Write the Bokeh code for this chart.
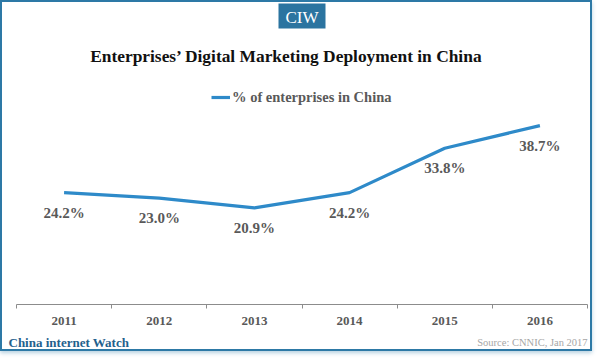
from bokeh.plotting import figure
from bokeh.models import (Range1d, FixedTicker, Label, BoxAnnotation, Legend,
                          LegendItem, ColumnDataSource)
from bokeh.core.properties import value
from bokeh.embed import file_html
from bokeh.resources import INLINE

# ---- data ----
years = ["2011", "2012", "2013", "2014", "2015", "2016"]
share = [24.2, 23.0, 20.9, 24.2, 33.8, 38.7]
series_name = "% of enterprises in China"
title_text = "Enterprises\u2019 Digital Marketing Deployment in China"
brand = "CIW"
footer_left = "China internet Watch"
footer_right = "Source: CNNIC, Jan 2017"

xs = [i + 0.5 for i in range(len(years))]
labels = [f"{v:.1f}%" for v in share]
src = ColumnDataSource(dict(x=xs, y=share, label=labels))

SERIF = "Liberation Serif"
GRAY = "#595959"
LINE = "#2e8ac9"

p = figure(width=588, height=347, output_backend="svg", toolbar_location=None,
           x_range=Range1d(0, len(years)), y_range=Range1d(0, 65.34),
           y_axis_location=None, min_border_left=14, min_border_right=7,
           min_border_top=0, min_border_bottom=46)
p.styles = {"border": "2px solid #2d79a6", "box-sizing": "content-box",
            "box-shadow": "0 2px 4px rgba(45,121,166,0.35)"}
p.outline_line_color = None
p.background_fill_color = "white"
p.border_fill_color = "white"
p.xgrid.visible = False
p.ygrid.visible = False

ax = p.xaxis[0]
ax.ticker = FixedTicker(ticks=xs, minor_ticks=list(range(len(years) + 1)))
ax.major_label_overrides = {x: y for x, y in zip(xs, years)}
ax.major_tick_line_color = None
ax.major_tick_out = 0
ax.major_tick_in = 0
ax.minor_tick_line_color = "#8c8c8c"
ax.minor_tick_out = 4
ax.minor_tick_in = 0
ax.axis_line_color = "#8c8c8c"
ax.axis_line_width = 1
ax.major_label_standoff = 8
ax.major_label_text_font = SERIF
ax.major_label_text_font_style = "bold"
ax.major_label_text_font_size = "13px"
ax.major_label_text_color = GRAY

line = p.line("x", "y", source=src, line_color=LINE, line_width=3.2)
p.text("x", "y", text="label", source=src, y_offset=20, text_align="center",
       text_baseline="middle", text_font=value(SERIF), text_font_style="bold",
       text_font_size="15px", text_color=GRAY)

legend = Legend(items=[LegendItem(label=series_name, renderers=[line])],
                location=(195, 197), padding=0, margin=0, spacing=0,
                glyph_width=19, glyph_height=20, label_height=20,
                label_standoff=2, border_line_color=None,
                background_fill_alpha=0,
                label_text_font=SERIF, label_text_font_style="bold",
                label_text_font_size="14.5px", label_text_color=GRAY)
p.add_layout(legend)

p.add_layout(Label(x=270, y=249, x_units="screen", y_units="screen",
                   text=title_text, text_align="center",
                   text_baseline="middle", text_font=SERIF,
                   text_font_style="bold", text_font_size="17.4px",
                   text_color="#111111"))

p.add_layout(BoxAnnotation(left=262, right=309, top=301, bottom=276,
                           left_units="screen", right_units="screen",
                           top_units="screen", bottom_units="screen",
                           fill_color="#2b74a0", fill_alpha=1,
                           line_color=None))
p.add_layout(Label(x=285.5, y=287, x_units="screen", y_units="screen",
                   text=brand, text_align="center", text_baseline="middle",
                   text_font=SERIF, text_font_size="17px", text_color="white"))

# footer texts live in the bottom side panels (not clipped to the frame)
p.add_layout(Label(x=-8, y=0, x_units="screen", y_units="screen",
                   text=footer_left, text_align="left", text_baseline="middle",
                   text_font=SERIF, text_font_style="bold",
                   text_font_size="13px", text_color="#1f618d"), "below")
p.add_layout(Label(x=571, y=11, x_units="screen", y_units="screen",
                   text=footer_right, text_align="right",
                   text_baseline="middle", text_font=SERIF,
                   text_font_size="10.5px", text_color="#a6a6a6"), "below")

open("out.html", "w").write(file_html(p, INLINE))
